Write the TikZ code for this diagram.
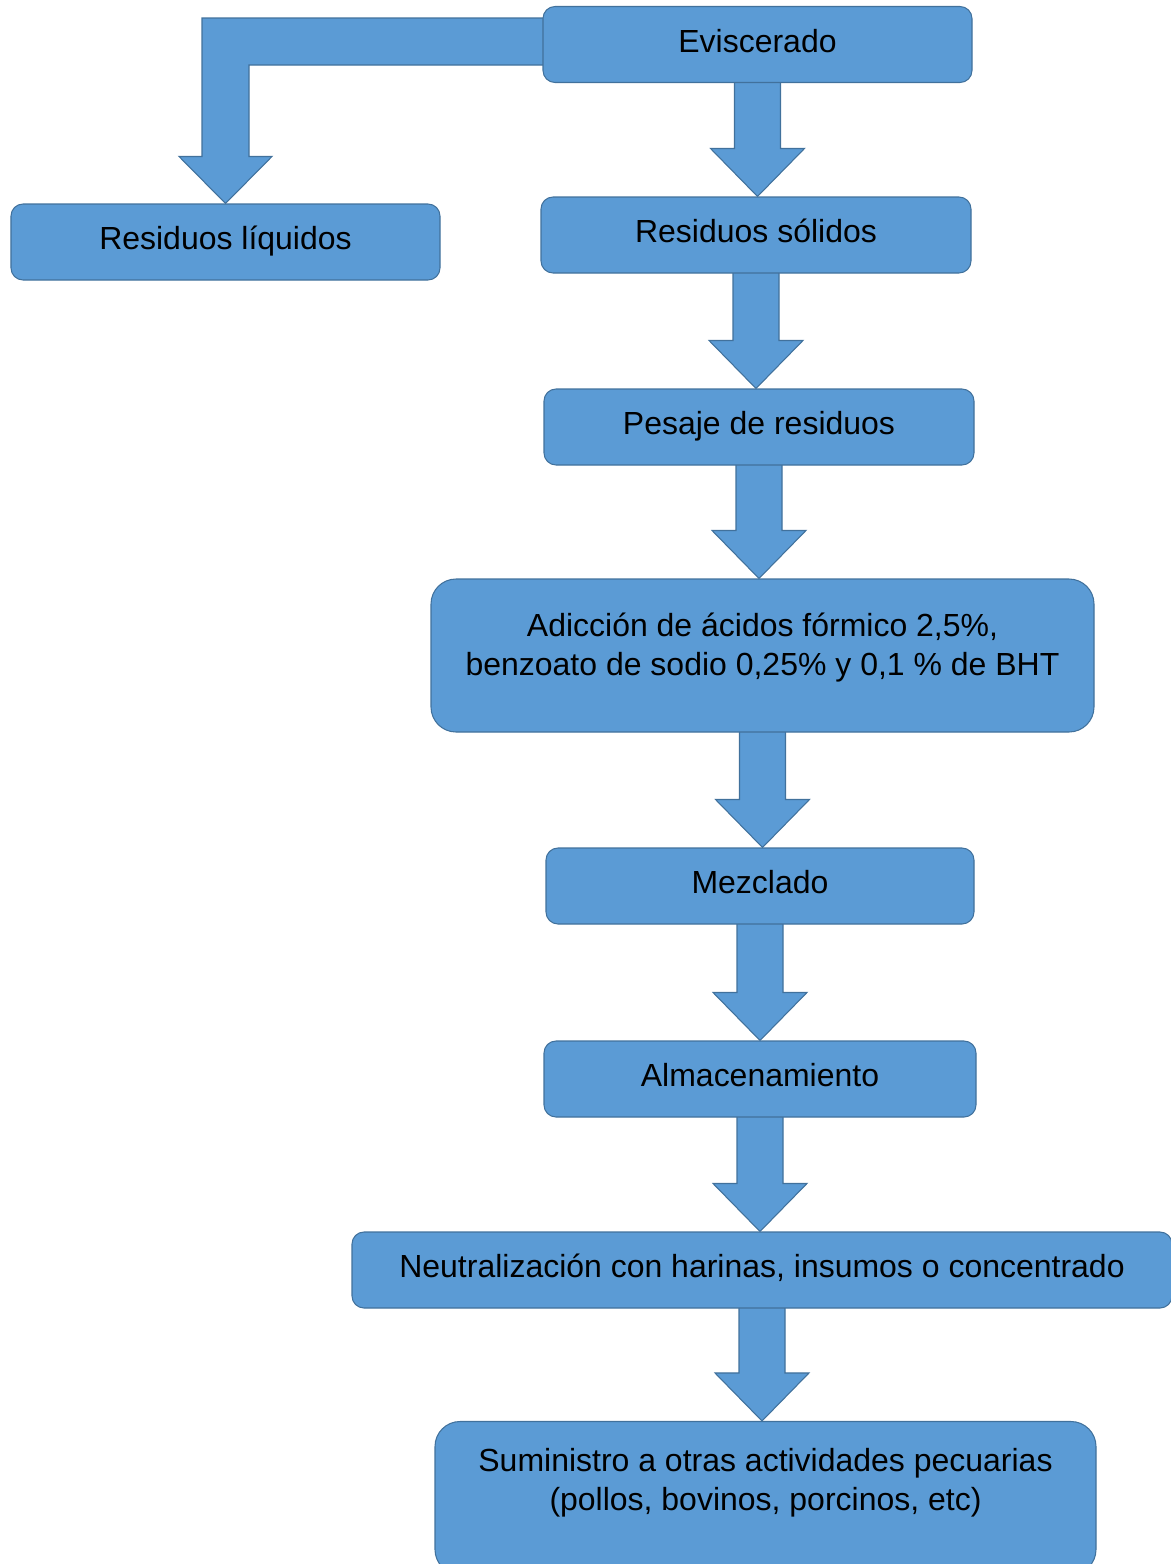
\documentclass[tikz,border=0pt]{standalone}
\usepackage{fontspec}
\setmainfont{Liberation Sans}
\usetikzlibrary{calc,backgrounds}
\definecolor{azulcaja}{RGB}{91,155,213}
\definecolor{azulborde}{RGB}{65,113,156}
\tikzset{
  caja/.style={draw=azulborde,line width=0.6pt,fill=azulcaja,rounded corners=0.24cm,
    minimum height=1.52cm,inner sep=0pt,align=center,text=black,
    text height=0.45cm,text depth=0.15cm,
    font=\fontsize{18.2}{22.2}\selectfont},
  cajagrande/.style={caja,rounded corners=0.5cm,minimum height=3.06cm,text height=,text depth=},
  flecha/.style={draw=azulborde,line width=0.6pt,fill=azulcaja,line join=miter}
}
\newcommand{\flechaabajo}[2]{%
  \path[flecha] let \p1=(#1.south), \p2=(#2.north) in
    (\x1-0.46cm,\y1+0.05cm) -- (\x1-0.46cm,\y2+0.96cm) -- (\x1-0.94cm,\y2+0.96cm) -- (\x1,\y2)
    -- (\x1+0.94cm,\y2+0.96cm) -- (\x1+0.46cm,\y2+0.96cm) -- (\x1+0.46cm,\y1+0.05cm) -- cycle;}

\begin{document}
\begin{tikzpicture}
\useasboundingbox (0,0) rectangle (23.4,-31.28);
\node[caja,minimum width=8.58cm] (evisc) at (15.15,-0.89) {Eviscerado};
\node[caja,minimum width=8.58cm] (liquidos) at (4.51,-4.84) {Residuos líquidos};
\node[caja,minimum width=8.6cm] (solidos) at (15.12,-4.70) {Residuos sólidos};
\node[caja,minimum width=8.6cm] (pesaje) at (15.18,-8.54) {Pesaje de residuos};
\node[cajagrande,minimum width=13.26cm] (adicion) at (15.25,-13.11) {Adicción de ácidos fórmico 2,5\%,\\benzoato de sodio 0,25\% y 0,1 \% de BHT\\[-0.56cm] \strut};
\node[caja,minimum width=8.56cm] (mezclado) at (15.2,-17.72) {Mezclado};
\node[caja,minimum width=8.64cm] (almacen) at (15.2,-21.58) {Almacenamiento};
\node[caja,minimum width=16.4cm] (neutral) at (15.24,-25.4) {Neutralización con harinas, insumos o concentrado};
\node[cajagrande,minimum width=13.22cm] (suministro) at (15.31,-29.96) {Suministro a otras actividades pecuarias\\(pollos, bovinos, porcinos, etc)\\[-0.28cm] \strut};
\begin{scope}[on background layer]
\path[flecha] let \p1=(evisc.west), \p2=(liquidos.north) in
  (\x1+0.1cm,\y1+0.53cm) -- (\x2-0.47cm,\y1+0.53cm) -- (\x2-0.47cm,\y2+0.94cm) -- (\x2-0.93cm,\y2+0.94cm)
  -- (\x2,\y2) -- (\x2+0.93cm,\y2+0.94cm) -- (\x2+0.47cm,\y2+0.94cm) -- (\x2+0.47cm,\y1-0.41cm)
  -- (\x1+0.1cm,\y1-0.41cm) -- cycle;
\flechaabajo{evisc}{solidos}
\flechaabajo{solidos}{pesaje}
\flechaabajo{pesaje}{adicion}
\flechaabajo{adicion}{mezclado}
\flechaabajo{mezclado}{almacen}
\flechaabajo{almacen}{neutral}
\flechaabajo{neutral}{suministro}
\end{scope}
\end{tikzpicture}
\end{document}
